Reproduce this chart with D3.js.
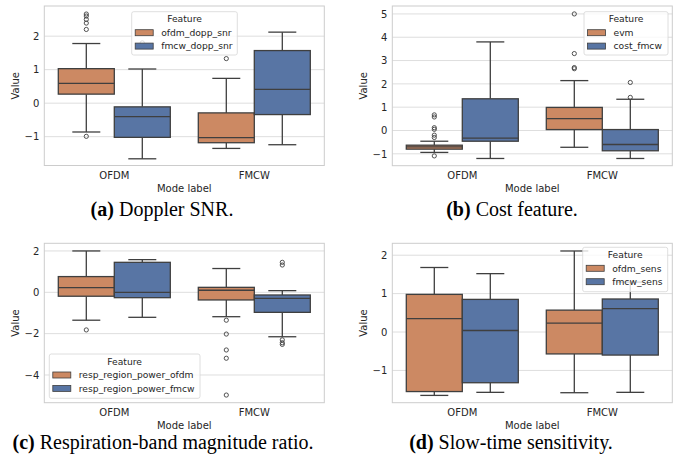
<!DOCTYPE html>
<html><head><meta charset="utf-8">
<script src="https://cdn.jsdelivr.net/npm/d3@7/dist/d3.min.js"></script>
<style>body{margin:0;background:#fff}svg{display:block}</style>
</head><body>
<script>
// ---------- data ----------
const categories = ["OFDM", "FMCW"];

// stats per box: [whisker low, q1, median, q3, whisker high]
const dopplerFeatures = ["ofdm_dopp_snr", "fmcw_dopp_snr"];
const dopplerStats = [
  [[-0.86, 0.27, 0.59, 1.03, 1.78], [-1.66, -1.02, -0.40, -0.11, 1.02]],   // OFDM
  [[-1.35, -1.18, -1.03, -0.29, 0.74], [-1.24, -0.34, 0.41, 1.57, 2.12]]   // FMCW
];
const dopplerFliers = [
  [[-0.99, 2.2, 2.39, 2.5, 2.6, 2.66], [1.8]],
  [[1.33], []]
];
const dopplerTicks = [-1, 0, 1, 2];

const costFeatures = ["evm", "cost_fmcw"];
const costStats = [
  [[-0.94, -0.80, -0.70, -0.63, -0.46], [-1.2, -0.46, -0.33, 1.36, 3.8]],
  [[-0.72, 0.04, 0.51, 0.99, 2.14], [-1.2, -0.87, -0.60, 0.04, 1.34]]
];
const costFliers = [
  [[-1.09, -0.3, -0.2, 0.05, 0.12, 0.58, 0.67], []],
  [[2.65, 2.7, 3.3, 5.0], [1.42, 2.06]]
];
const costTicks = [-1, 0, 1, 2, 3, 4, 5];

const respFeatures = ["resp_region_power_ofdm", "resp_region_power_fmcw"];
const respStats = [
  [[-1.35, -0.19, 0.23, 0.76, 2.0], [-1.21, -0.26, 0.0, 1.45, 1.58]],
  [[-1.18, -0.37, 0.10, 0.24, 1.15], [-2.15, -0.97, -0.29, -0.13, 0.08]]
];
const respFliers = [
  [[-1.82], []],
  [[-1.35, -2.02, -2.79, -3.19, -4.97], [1.32, 1.45, -2.3, -2.44, -2.52]]
];
const respTicks = [-4, -2, 0, 2];

const sensFeatures = ["ofdm_sens", "fmcw_sens"];
const sensStats = [
  [[-1.65, -1.55, 0.35, 0.98, 1.68], [-1.57, -1.32, 0.04, 0.85, 1.52]],
  [[-1.58, -0.57, 0.23, 0.57, 2.11], [-1.57, -0.60, 0.61, 0.86, 1.3]]
];
const sensFliers = [
  [[], []],
  [[], []]
];
const sensTicks = [-1, 0, 1, 2];

const colors = ["#cc8963", "#5875a4"];
const edge = "#3f3f3f";

// ---------- layout ----------
const panels = [
  {x0: 44.3, x1: 324.3, y0: 6, y1: 165.5, dom: [-1.86, 2.9], ticks: dopplerTicks,
   feats: dopplerFeatures, stats: dopplerStats, fliers: dopplerFliers,
   leg: {x: 131.7, y: 11.7, w: 105.6, h: 43.3}, ylab: 15, capX: 162, capY: 216, letter: "(a)", cap: " Doppler SNR."},
  {x0: 392.3, x1: 672.3, y0: 6, y1: 165.7, dom: [-1.51, 5.34], ticks: costTicks,
   feats: costFeatures, stats: costStats, fliers: costFliers,
   leg: {x: 584, y: 11.7, w: 84, h: 43.3}, ylab: 363.3, capX: 512, capY: 216, letter: "(b)", cap: " Cost feature."},
  {x0: 44.3, x1: 324.3, y0: 243.3, y1: 402.7, dom: [-5.34, 2.37], ticks: respTicks,
   feats: respFeatures, stats: respStats, fliers: respFliers,
   leg: {x: 49.3, y: 354, w: 150.7, h: 44.3}, ylab: 15, capX: 163, capY: 449, letter: "(c)", cap: " Respiration-band magnitude ratio."},
  {x0: 392.3, x1: 672.3, y0: 243.3, y1: 402.7, dom: [-1.84, 2.31], ticks: sensTicks,
   feats: sensFeatures, stats: sensStats, fliers: sensFliers,
   leg: {x: 582.7, y: 247.3, w: 85, h: 44.4}, ylab: 363.3, capX: 511, capY: 449, letter: "(d)", cap: " Slow-time sensitivity."}
];

const svg = d3.select("body").append("svg").attr("width", 680).attr("height", 457)
  .style("font-family", "'DejaVu Sans', sans-serif");

panels.forEach(p => {
  const g = svg.append("g");
  const x = d3.scaleBand().domain(categories).range([p.x0, p.x1]).paddingInner(0.2).paddingOuter(0.1);
  const xs = d3.scaleBand().domain(p.feats).range([0, x.bandwidth()]);
  const y = d3.scaleLinear().domain(p.dom).range([p.y1, p.y0]);

  // grid
  g.selectAll(".grid").data(p.ticks).join("line")
    .attr("x1", p.x0).attr("x2", p.x1).attr("y1", d => y(d)).attr("y2", d => y(d))
    .attr("stroke", "#dedede").attr("stroke-width", 1);

  // y axis
  const ya = g.append("g").attr("transform", `translate(${p.x0},0)`)
    .call(d3.axisLeft(y).tickValues(p.ticks).tickSize(0).tickPadding(5).tickFormat(d => d3.format("d")(d).replace("-", "\u2212")));
  ya.select(".domain").remove();
  ya.selectAll("text").attr("font-size", 10).attr("fill", "#262626").attr("font-family", "'DejaVu Sans', sans-serif");

  // x axis
  const xa = g.append("g").attr("transform", `translate(0,${p.y1})`)
    .call(d3.axisBottom(x).tickSize(0).tickPadding(6));
  xa.select(".domain").remove();
  xa.selectAll("text").attr("font-size", 10).attr("fill", "#262626").attr("font-family", "'DejaVu Sans', sans-serif");

  // boxes
  categories.forEach((c, ci) => {
    p.feats.forEach((f, fi) => {
      const s = p.stats[ci][fi];
      const bx = x(c) + xs(f), bw = xs.bandwidth(), cx = bx + bw / 2;
      const bg = g.append("g");
      bg.append("line").attr("x1", cx).attr("x2", cx).attr("y1", y(s[0])).attr("y2", y(s[1]))
        .attr("stroke", edge).attr("stroke-width", 1.3);
      bg.append("line").attr("x1", cx).attr("x2", cx).attr("y1", y(s[3])).attr("y2", y(s[4]))
        .attr("stroke", edge).attr("stroke-width", 1.3);
      [s[0], s[4]].forEach(v => bg.append("line").attr("x1", cx - bw / 4).attr("x2", cx + bw / 4)
        .attr("y1", y(v)).attr("y2", y(v)).attr("stroke", edge).attr("stroke-width", 1.3));
      bg.append("rect").attr("x", bx).attr("width", bw).attr("y", y(s[3])).attr("height", y(s[1]) - y(s[3]))
        .attr("fill", colors[fi]).attr("stroke", edge).attr("stroke-width", 1.3);
      bg.append("line").attr("x1", bx).attr("x2", bx + bw).attr("y1", y(s[2])).attr("y2", y(s[2]))
        .attr("stroke", edge).attr("stroke-width", 1.3);
      bg.selectAll("circle").data(p.fliers[ci][fi]).join("circle")
        .attr("cx", cx).attr("cy", d => y(d)).attr("r", 2.1)
        .attr("fill", "none").attr("stroke", edge).attr("stroke-width", 0.9);
    });
  });

  // frame
  g.append("rect").attr("x", p.x0).attr("y", p.y0).attr("width", p.x1 - p.x0).attr("height", p.y1 - p.y0)
    .attr("fill", "none").attr("stroke", "#cccccc").attr("stroke-width", 1);

  // labels
  g.append("text").attr("x", (p.x0 + p.x1) / 2).attr("y", p.y1 + 26).attr("text-anchor", "middle")
    .attr("font-size", 10).attr("fill", "#262626").text("Mode label");
  g.append("text").attr("transform", `translate(${p.ylab},${(p.y0 + p.y1) / 2}) rotate(-90)`)
    .attr("text-anchor", "middle").attr("dy", "0.35em").attr("font-size", 10).attr("fill", "#262626").text("Value");

  // legend
  const L = p.leg;
  const lg = g.append("g");
  lg.append("rect").attr("x", L.x).attr("y", L.y).attr("width", L.w).attr("height", L.h).attr("rx", 2)
    .attr("fill", "#fff").attr("fill-opacity", 0.8).attr("stroke", "#d6d6d6").attr("stroke-width", 0.8);
  lg.append("text").attr("x", L.x + L.w / 2).attr("y", L.y + 10.5).attr("text-anchor", "middle")
    .attr("font-size", 9.2).attr("fill", "#262626").text("Feature");
  p.feats.forEach((f, i) => {
    const yy = L.y + 18 + i * 13.4;
    lg.append("rect").attr("x", L.x + 3.5).attr("y", yy).attr("width", 18).attr("height", 6)
      .attr("fill", colors[i]).attr("stroke", edge).attr("stroke-width", 0.8);
    lg.append("text").attr("x", L.x + 29.5).attr("y", yy + 3).attr("dy", "0.35em")
      .attr("font-size", 9.2).attr("fill", "#262626").text(f);
  });

  // caption
  const cap = svg.append("text").attr("x", p.capX).attr("y", p.capY).attr("text-anchor", "middle")
    .attr("font-family", "'Liberation Serif', 'Times New Roman', serif").attr("font-size", 20).attr("fill", "#000");
  cap.append("tspan").attr("font-weight", "bold").text(p.letter);
  cap.append("tspan").text(p.cap);
});
</script>
</body></html>
